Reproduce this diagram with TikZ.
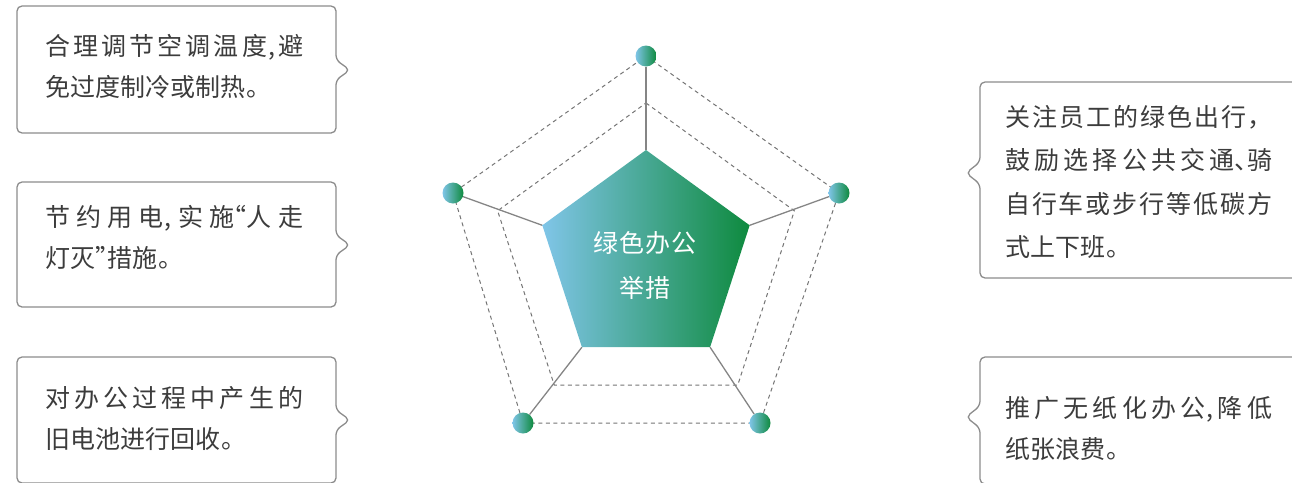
\documentclass[tikz,border=0pt]{standalone}
\usepackage{fontspec}
\newfontfamily\cjk{Noto Sans CJK SC}[LetterSpace=4]
\newfontfamily\cjkh{Noto Sans CJK SC}[RawFeature=+halt]
\XeTeXlinebreaklocale "zh"
\XeTeXlinebreakskip=0pt plus 6pt
\tolerance=10000
\definecolor{txt}{HTML}{3C3C3C}
\definecolor{bd}{HTML}{8C8C8C}
\definecolor{gA}{HTML}{80C5E8}
\definecolor{gB}{HTML}{0E8A3E}
\definecolor{spk}{HTML}{858585}
\definecolor{dsh}{HTML}{757575}
\tikzset{
  callout/.style={draw=bd, line width=1.3pt, rounded corners=5pt},
  bodytext/.style={anchor=west, inner sep=0pt, align=justify, text=txt,
    font=\cjk\fontsize{25}{41}\selectfont},
  dashpent/.style={draw=dsh, line width=1pt, dash pattern=on 4pt off 3.5pt},
  spoke/.style={draw=spk, line width=1.3pt},
  dot/.style={circle, minimum size=21pt, inner sep=0pt, left color=gA, right color=gB},
}
\begin{document}
\begin{tikzpicture}[x=1pt,y=-1pt]
\useasboundingbox (0,0) rectangle (1292,482);
\clip (0,0) rectangle (1292,482);
% inner pentagon vertices (R=109)
\coordinate (i1) at (646,150);
\coordinate (i2) at ({646+109*cos(18)},{259-109*sin(18)});
\coordinate (i3) at ({646+109*cos(54)},{259+109*sin(54)});
\coordinate (i4) at ({646-109*cos(54)},{259+109*sin(54)});
\coordinate (i5) at ({646-109*cos(18)},{259-109*sin(18)});
% middle dashed pentagon (R=156)
\coordinate (m1) at (646,103);
\coordinate (m2) at ({646+156*cos(18)},{259-156*sin(18)});
\coordinate (m3) at ({646+156*cos(54)},{259+156*sin(54)});
\coordinate (m4) at ({646-156*cos(54)},{259+156*sin(54)});
\coordinate (m5) at ({646-156*cos(18)},{259-156*sin(18)});
% outer vertices
\coordinate (o1) at (646,56);
\coordinate (o2) at (839,193);
\coordinate (o3) at (760,423);
\coordinate (o4) at (523,423);
\coordinate (o5) at (453,193);
% dashed pentagons
\draw[dashpent] (o1) -- (o2) -- (o3) -- (o4) -- (o5) -- cycle;
\draw[dashpent] (m1) -- (m2) -- (m3) -- (m4) -- (m5) -- cycle;
% dots
\node[dot] (c1) at (o1) {};
\node[dot] (c2) at (o2) {};
\node[dot] (c3) at (o3) {};
\node[dot] (c4) at (o4) {};
\node[dot] (c5) at (o5) {};
% spokes
\draw[spoke] (i1) -- (c1);
\draw[spoke] (i2) -- (c2);
\draw[spoke] (i3) -- (c3);
\draw[spoke] (i4) -- (c4);
\draw[spoke] (i5) -- (c5);
% filled pentagon
\shade[left color=gA, right color=gB] (i1) -- (i2) -- (i3) -- (i4) -- (i5) -- cycle;
\node[inner sep=0pt, align=center, text=white, font=\cjk\fontsize{25}{45}\selectfont] (center) at (645,265.5) {绿色办公\\举措};
% callout boxes, left (notch to the right)
\draw[callout] (170,6) -- (336,6) -- (336,60) -- (350,70) -- (336,80) -- (336,133) -- (17,133) -- (17,6) -- cycle;
\draw[callout] (170,182) -- (336,182) -- (336,235) -- (350,245) -- (336,255) -- (336,307) -- (17,307) -- (17,182) -- cycle;
\draw[callout] (170,357) -- (336,357) -- (336,410) -- (350,420) -- (336,430) -- (336,483) -- (17,483) -- (17,357) -- cycle;
% callout boxes, right (notch to the left)
\draw[callout] (1100,82) -- (1310,82) -- (1310,278) -- (980,278) -- (980,184) -- (966,173) -- (980,162) -- (980,82) -- cycle;
\draw[callout] (1100,357) -- (1310,357) -- (1310,484) -- (980,484) -- (980,428) -- (966,417) -- (980,406) -- (980,357) -- cycle;
% texts
\node[bodytext, text width=258pt] (t1) at (45,66) {\noindent 合理调节空调温度,避\linebreak 免过度制冷或制热。};
\node[bodytext, text width=258pt] (t2) at (45,237) {\noindent 节约用电,实施{\cjkh “}人走\linebreak 灯灭{\cjkh ”}措施。};
\node[bodytext, text width=258pt] (t3) at (45,418.5) {\noindent 对办公过程中产生的\linebreak 旧电池进行回收。};
\node[bodytext, text width=267pt, font=\cjk\fontsize{25}{43.5}\selectfont] (t4) at (1005,182) {\noindent 关注员工的绿色出行，\linebreak 鼓励选择公共交通{\cjkh 、}骑\linebreak 自行车或步行等低碳方\linebreak 式上下班。};
\node[bodytext, text width=267pt] (t5) at (1005,429) {\noindent 推广无纸化办公,降低\linebreak 纸张浪费。};
\end{tikzpicture}
\end{document}
